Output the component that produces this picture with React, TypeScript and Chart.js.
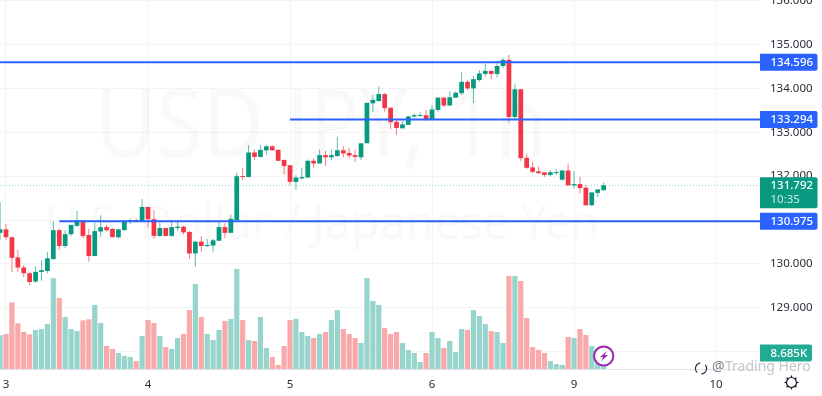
import React, { useEffect, useRef } from "react";
import { Chart, registerables } from "chart.js";

Chart.register(...registerables);

// Hourly USD/JPY candles: the first bar is one hour before the "3" tick.
const opens = [130.71,130.79,130.61,130.15,129.92,129.79,129.60,129.82,129.84,130.11,130.77,130.41,130.68,130.87,130.99,130.66,130.18,130.74,130.84,130.80,130.61,130.77,130.97,131.00,130.98,131.30,131.02,130.64,130.82,130.64,130.82,130.85,130.73,130.24,130.51,130.41,130.42,130.53,130.84,130.71,131.00,132.00,131.98,132.54,132.44,132.59,132.68,132.60,132.37,132.25,131.87,131.95,131.97,132.35,132.29,132.48,132.43,132.46,132.59,132.53,132.48,132.43,132.75,133.66,133.71,133.87,133.56,133.24,133.09,133.17,133.36,133.37,133.39,133.30,133.51,133.79,133.61,133.79,133.89,134.15,134.00,134.19,134.33,134.40,134.33,134.51,134.65,133.35,133.98,132.42,132.20,132.11,132.09,132.03,132.07,131.92,132.13,131.79,131.82,131.74,131.34,131.62,131.68];
const highs = [131.41,130.91,130.61,130.32,129.98,129.82,129.95,130.08,130.27,130.98,130.81,130.77,130.89,131.21,131.00,130.81,130.94,131.11,130.89,130.81,130.79,130.99,131.04,131.04,131.48,131.30,131.23,130.94,130.82,130.99,130.96,130.87,130.75,130.53,130.64,130.57,130.57,130.96,130.93,131.13,132.08,132.18,132.71,132.60,132.71,132.71,132.71,132.62,132.38,132.25,132.03,132.20,132.38,132.41,132.61,132.58,132.60,132.90,132.69,132.64,132.60,132.75,133.67,133.85,134.05,133.90,133.56,133.30,133.26,133.38,133.43,133.45,133.51,133.62,133.79,133.81,133.93,133.93,134.37,134.19,134.28,134.42,134.56,134.40,134.61,134.69,134.76,134.09,133.98,132.52,132.33,132.22,132.09,132.14,132.16,132.14,132.29,132.12,131.99,131.80,131.63,131.70,131.86];
const lows = [130.55,130.55,129.82,129.82,129.70,129.52,129.57,129.62,129.79,130.11,130.32,130.36,130.64,130.84,130.59,130.05,130.18,130.62,130.74,130.61,130.58,130.77,130.91,130.94,130.98,130.83,130.58,130.62,130.62,130.62,130.76,130.68,130.11,129.94,130.28,130.39,130.28,130.53,130.59,130.71,131.00,131.91,131.98,132.37,132.42,132.48,132.58,132.35,132.04,131.80,131.69,131.93,131.97,132.18,132.29,132.24,132.37,132.44,132.43,132.41,132.33,132.37,132.75,133.47,133.71,133.47,133.07,132.94,133.09,133.17,133.34,133.36,133.26,133.30,133.47,133.58,133.61,133.79,133.85,133.96,133.67,134.15,134.27,134.21,134.25,134.46,133.22,133.30,132.35,132.17,132.07,132.05,131.99,132.00,132.03,131.90,131.79,131.72,131.61,131.32,131.32,131.53,131.68];
const closes = [130.79,130.61,130.14,129.92,129.79,129.59,129.82,129.86,130.13,130.77,130.41,130.68,130.89,130.99,130.64,130.18,130.75,130.84,130.77,130.61,130.79,130.97,131.00,130.97,131.30,131.02,130.64,130.82,130.64,130.84,130.85,130.72,130.24,130.51,130.41,130.43,130.54,130.84,130.71,131.03,132.00,131.98,132.54,132.44,132.60,132.68,132.59,132.35,132.23,131.87,131.97,131.98,132.35,132.29,132.48,132.43,132.48,132.59,132.52,132.47,132.44,132.75,133.67,133.74,133.87,133.55,133.23,133.10,133.18,133.36,133.39,133.39,133.30,133.52,133.79,133.61,133.80,133.90,134.15,134.00,134.21,134.34,134.40,134.33,134.51,134.65,133.35,133.98,132.41,132.19,132.10,132.07,132.03,132.09,132.09,132.13,131.79,131.82,131.73,131.34,131.63,131.70,131.792];
const volumes = [18.3,19.0,36.2,24.8,20.1,18.8,21.2,21.7,24.4,49.3,38.6,28.2,21.7,20.6,26.4,27.0,34.8,25.0,12.5,10.9,8.7,7.1,6.5,4.3,17.9,26.6,25.0,17.9,11.9,10.9,16.8,19.0,32.0,46.2,28.2,19.0,15.7,21.2,26.1,27.2,54.3,26.6,15.7,15.2,28.2,11.4,6.5,2.2,12.5,26.6,27.2,20.1,17.9,16.8,19.0,20.1,26.6,32.0,21.7,19.0,16.8,14.1,49.4,36.9,34.8,22.3,19.0,20.1,14.1,10.3,8.7,3.8,8.7,20.1,16.8,11.4,15.2,9.2,21.7,21.2,32.0,28.8,24.4,20.6,20.1,14.1,50.5,50.5,47.8,27.7,11.9,10.3,8.7,4.3,2.7,2.2,17.4,16.8,21.7,18.5,12.5,10.9,8.685];
const xTickHours = [0, 24, 48, 72, 96, 120];
const xTickLabels = ["3", "4", "5", "6", "9", "10"];
const priceTicks = [128, 129, 130, 131, 132, 133, 134, 135, 136];
const levelPrices = [134.596, 133.294, 130.975];
const levelStarts = [-1.014, 48, 9];
const lastPrice = 131.792;
const lastVolume = 8.685;
const countdown = "10:35";

const X_MIN = -1.014;
const X_MAX = 127.43;
const UI_FONT = '"Noto Sans", sans-serif';
const BLUE = "#2962ff";
const GREEN = "#089981";
const RED = "#f23645";

const hours = opens.map((_, i) => i - 1);

const zeroPadding = (s: any) => {
  s.paddingTop = 0;
  s.paddingBottom = 0;
  s.paddingLeft = 0;
  s.paddingRight = 0;
};

const overlay = {
  id: "overlay",
  beforeDatasetsDraw(chart: any) {
    const { ctx, chartArea } = chart;
    ctx.save();
    ctx.beginPath();
    ctx.rect(chartArea.left, chartArea.top, chartArea.width, chartArea.height);
    ctx.clip();
    ctx.fillStyle = "rgba(19,23,34,0.026)";
    ctx.textAlign = "center";
    ctx.textBaseline = "alphabetic";
    ctx.font = `95px ${UI_FONT}`;
    ctx.fillText("USD JPY, 1h", 321, 157, 452);
    ctx.font = `48px ${UI_FONT}`;
    ctx.fillText("U.S. Dollar / Japanese Yen", 322, 239, 555);
    ctx.restore();
  },
  afterDraw(chart: any) {
    const { ctx } = chart;
    const y = chart.scales.y;
    const vol = chart.scales.vol;
    const tag = (cy: number, h: number, w: number, fill: string) => {
      ctx.fillStyle = fill;
      ctx.beginPath();
      ctx.roundRect(760, cy - h / 2, w, h, [0, 2, 2, 0]);
      ctx.fill();
    };
    ctx.save();
    ctx.textBaseline = "middle";
    ctx.textAlign = "left";
    ctx.font = `500 11.5px ${UI_FONT}`;
    levelPrices.forEach((p) => {
      const c = y.getPixelForValue(p);
      tag(c, 17, 57.5, BLUE);
      ctx.fillStyle = "#fff";
      ctx.fillText(p.toFixed(3), 770.5, c + 0.5);
    });
    const lp = y.getPixelForValue(lastPrice);
    ctx.fillStyle = GREEN;
    ctx.beginPath();
    ctx.roundRect(760, lp - 8, 57.5, 31, [0, 2, 2, 0]);
    ctx.fill();
    ctx.fillStyle = "#fff";
    ctx.fillText(lastPrice.toFixed(3), 770.5, lp + 0.5);
    ctx.fillStyle = "rgba(255,255,255,0.8)";
    ctx.font = `11.5px ${UI_FONT}`;
    ctx.fillText(countdown, 770.5, lp + 14);

    const vp = vol.getPixelForValue(lastVolume);
    tag(vp, 17, 52, "#22ab94");
    ctx.fillStyle = "#fff";
    ctx.font = `500 11.5px ${UI_FONT}`;
    ctx.fillText(`${lastVolume.toFixed(3)}K`, 770.5, vp + 0.5);

    // attribution watermark
    ctx.font = `14px ${UI_FONT}`;
    ctx.fillStyle = "#7d8088";
    ctx.fillText("@", 712, 367.5);
    ctx.fillStyle = "#c4c6cb";
    ctx.fillText("Trading Hero", 725, 367.5);
    ctx.strokeStyle = "#2a2e39";
    ctx.lineWidth = 1.2;
    ctx.beginPath();
    ctx.arc(701, 368.5, 5.6, -0.7, 1.5);
    ctx.stroke();
    ctx.beginPath();
    ctx.arc(701, 368.5, 5.6, 2.3, 4.6);
    ctx.stroke();

    // lightning badge
    ctx.fillStyle = "#fff";
    ctx.strokeStyle = "#9c27b0";
    ctx.lineWidth = 2;
    ctx.beginPath();
    ctx.arc(603.7, 356, 9.6, 0, Math.PI * 2);
    ctx.fill();
    ctx.stroke();
    ctx.fillStyle = "#9c27b0";
    ctx.beginPath();
    ctx.moveTo(607, 351);
    ctx.lineTo(600, 357.2);
    ctx.lineTo(603.3, 357.2);
    ctx.lineTo(601, 361.5);
    ctx.lineTo(608, 355);
    ctx.lineTo(604.7, 355);
    ctx.closePath();
    ctx.fill();

    // settings gear
    ctx.strokeStyle = "#131722";
    ctx.lineWidth = 1.2;
    ctx.beginPath();
    ctx.arc(791.5, 382.5, 5, 0, Math.PI * 2);
    ctx.stroke();
    for (let k = 0; k < 8; k++) {
      const a = (k * Math.PI) / 4;
      ctx.beginPath();
      ctx.moveTo(791.5 + Math.cos(a) * 5, 382.5 + Math.sin(a) * 5);
      ctx.lineTo(791.5 + Math.cos(a) * 7, 382.5 + Math.sin(a) * 7);
      ctx.stroke();
    }
    ctx.restore();
  },
};

export default function App() {
  const ref = useRef<HTMLCanvasElement>(null);
  useEffect(() => {
    document.body.style.margin = "0";
    const up = opens.map((o, i) => closes[i] >= o);
    const candleColors = up.map((u) => (u ? GREEN : RED));
    const wickColors = up.map((u) => (u ? "rgba(8,153,129,0.65)" : "rgba(242,54,69,0.65)"));
    const line = (pts: number[][], color: string, width: number, dash: number[] = []) => ({
      type: "line" as const,
      data: pts.map(([x, y]) => ({ x, y })),
      borderColor: color,
      borderWidth: width,
      borderDash: dash,
      pointRadius: 0,
      yAxisID: "y",
      order: 0,
    });
    const chart = new Chart(ref.current!, {
      data: {
        datasets: [
          ...levelPrices.map((p, i) => line([[levelStarts[i], p], [X_MAX, p]], BLUE, 2)),
          line([[X_MIN, lastPrice], [X_MAX, lastPrice]], "rgba(8,153,129,0.4)", 1, [1, 2]),
          {
            type: "bar" as const,
            data: hours.map((x, i) => ({ x, y: [Math.min(opens[i], closes[i]), Math.max(opens[i], closes[i])] })),
            backgroundColor: candleColors,
            grouped: false,
            barPercentage: 0.8,
            categoryPercentage: 1,
            minBarLength: 1,
            inflateAmount: 0,
            yAxisID: "y",
            order: 1,
          },
          {
            type: "bar" as const,
            data: hours.map((x, i) => ({ x, y: [lows[i], highs[i]] })),
            backgroundColor: wickColors,
            grouped: false,
            barPercentage: 0.17,
            categoryPercentage: 1,
            inflateAmount: 0,
            yAxisID: "y",
            order: 2,
          },
          {
            type: "bar" as const,
            data: hours.map((x, i) => ({ x, y: volumes[i] })),
            backgroundColor: up.map((u) => (u ? "#97d4cc" : "#f9a9a9")),
            grouped: false,
            barPercentage: 0.88,
            categoryPercentage: 1,
            inflateAmount: 0,
            yAxisID: "vol",
            order: 3,
          },
        ],
      } as any,
      options: {
        responsive: false,
        animation: false,
        layout: { padding: 0 },
        plugins: { legend: { display: false }, tooltip: { enabled: false } },
        scales: {
          x: {
            type: "linear",
            offset: false,
            min: X_MIN,
            max: X_MAX,
            afterBuildTicks: (s: any) => {
              s.ticks = xTickHours.map((value) => ({ value }));
            },
            afterFit: (s: any) => {
              s.height = 27;
              zeroPadding(s);
            },
            grid: { color: "#f3f4f6", drawTicks: false, offset: false },
            border: { color: "#e0e3eb" },
            ticks: {
              autoSkip: false,
              maxRotation: 0,
              padding: 9,
              color: "#2a2e39",
              font: { family: "Noto Sans", size: 11.5 },
              callback: (v: any) => xTickLabels[xTickHours.indexOf(Number(v))] ?? "",
            },
          },
          y: {
            position: "right",
            min: 127.608,
            max: 136.014,
            afterBuildTicks: (s: any) => {
              s.ticks = priceTicks.map((value) => ({ value }));
            },
            afterFit: (s: any) => {
              s.width = 62;
              zeroPadding(s);
            },
            grid: { color: "#f3f4f6", drawTicks: false },
            border: { display: false },
            ticks: {
              autoSkip: false,
              padding: 10,
              color: "#2a2e39",
              font: { family: "Noto Sans", size: 11.5 },
              callback: (v: any) => (priceTicks.includes(Number(v)) && Number(v) !== 131 ? Number(v).toFixed(3) : ""),
            },
          },
          vol: {
            axis: "y",
            position: "right",
            display: false,
            min: 0,
            max: 200.4,
            afterFit: (s: any) => {
              s.width = 0;
              zeroPadding(s);
            },
          },
        },
      } as any,
      plugins: [overlay],
    });
    return () => chart.destroy();
  }, []);
  return <canvas ref={ref} width={822} height={396} style={{ display: "block", width: 822, height: 396 }} />;
}
